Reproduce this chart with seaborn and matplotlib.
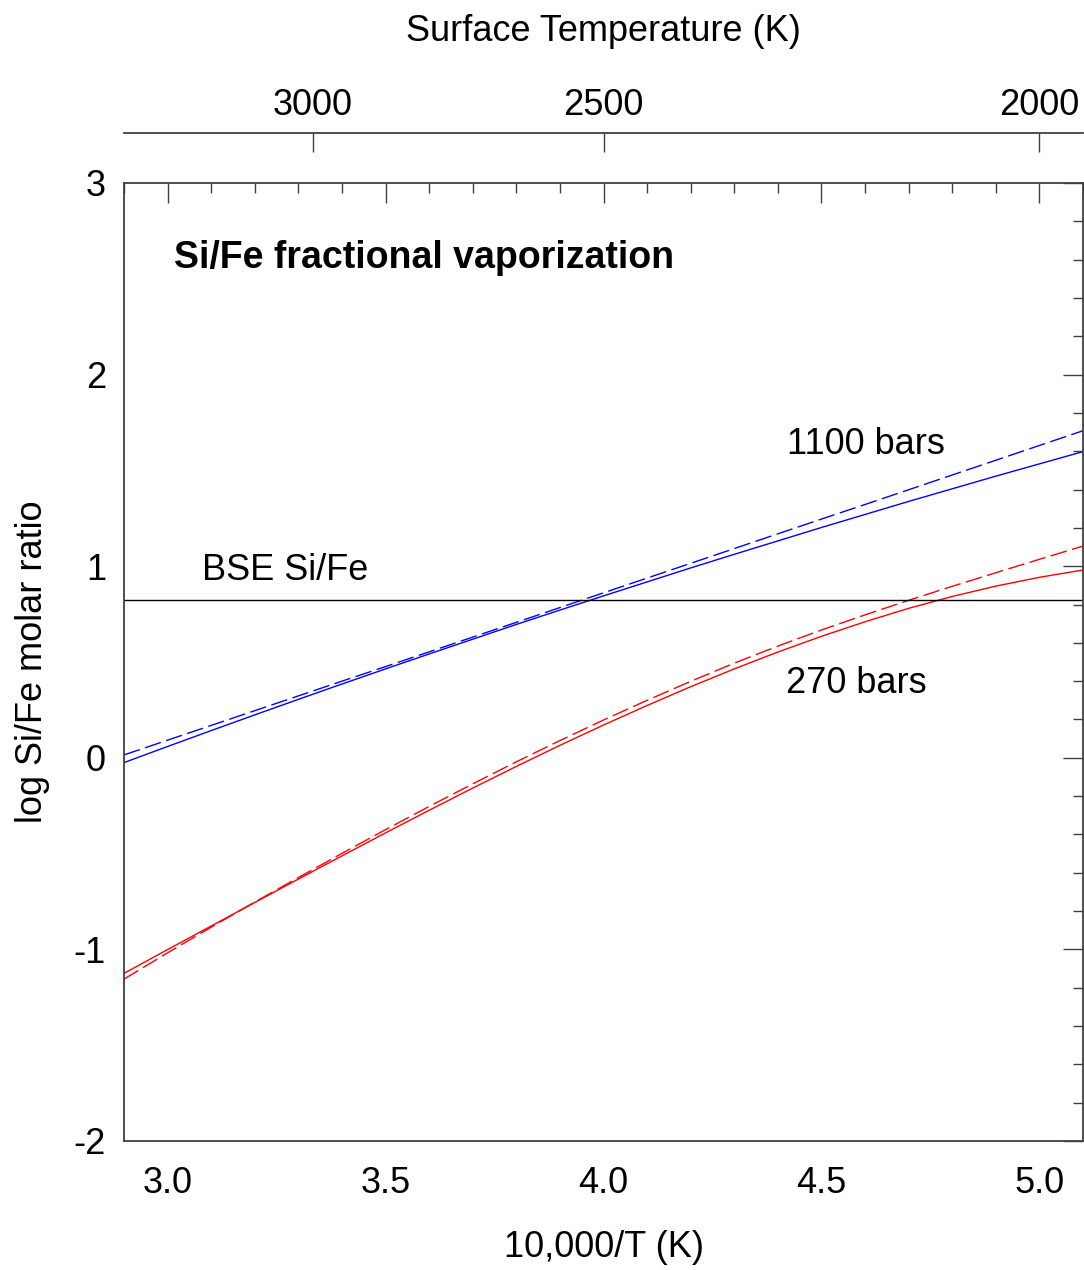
import matplotlib
matplotlib.use("Agg")
import matplotlib.pyplot as plt
from matplotlib.ticker import MultipleLocator, FixedLocator
import seaborn as sns
import numpy as np
import pandas as pd

# ---- data ----
inv_T = [2.9, 3.0, 3.1, 3.2, 3.3, 3.4, 3.5, 3.6, 3.7, 3.8, 3.9, 4.0,
         4.1, 4.2, 4.3, 4.4, 4.5, 4.6, 4.7, 4.8, 4.9, 5.0, 5.1]
si_fe_1100_solid = [-0.025, 0.059, 0.142, 0.224, 0.305, 0.385, 0.464, 0.542, 0.619, 0.696, 0.771, 0.845,
                    0.918, 0.991, 1.062, 1.132, 1.202, 1.270, 1.338, 1.404, 1.470, 1.534, 1.598]
si_fe_1100_dashed = [0.015, 0.092, 0.169, 0.246, 0.323, 0.400, 0.476, 0.553, 0.630, 0.707, 0.784, 0.861,
                     0.938, 1.015, 1.092, 1.169, 1.246, 1.322, 1.399, 1.476, 1.553, 1.630, 1.707]
si_fe_270_solid = [-1.125, -1.001, -0.878, -0.755, -0.633, -0.512, -0.392, -0.274, -0.158, -0.045, 0.065, 0.171,
                   0.273, 0.371, 0.464, 0.552, 0.634, 0.710, 0.780, 0.842, 0.896, 0.942, 0.980]
si_fe_270_dashed = [-1.155, -1.018, -0.884, -0.753, -0.625, -0.499, -0.375, -0.254, -0.136, -0.021, 0.090, 0.197,
                    0.300, 0.399, 0.494, 0.583, 0.667, 0.746, 0.822, 0.895, 0.966, 1.036, 1.105]
bse_si_fe = 0.824
top_temps = [3000, 2500, 2000]
y_ticks = [3, 2, 1, 0, -1, -2]
y_ticklabels = ["3", "2", "1", "0", "-1", "-2"]
x_ticks = [3.0, 3.5, 4.0, 4.5, 5.0]
x_ticklabels = ["3.0", "3.5", "4.0", "4.5", "5.0"]

sns.set_theme(style="white")
plt.rcParams["font.family"] = ["Liberation Sans", "DejaVu Sans"]
plt.rcParams["text.color"] = "black"
plt.rcParams["axes.labelcolor"] = "black"

FS = 26
axcol = "#404040"
fig = plt.figure(figsize=(10.84, 12.70), dpi=100)
ax = fig.add_axes([124 / 1084, 129 / 1270, 959 / 1084, 958 / 1270])

series = [
    (si_fe_1100_solid, "#0000ff", "-"),
    (si_fe_1100_dashed, "#0000ff", (0, (12, 4))),
    (si_fe_270_solid, "#ff0000", "-"),
    (si_fe_270_dashed, "#ff0000", (0, (12, 4))),
]
for vals, col, ls in series:
    sns.lineplot(x=inv_T, y=vals, ax=ax, color=col, linewidth=1.0)
    ax.lines[-1].set_linestyle(ls)

ax.axhline(bse_si_fe, color="black", linewidth=1.0)

ax.set_xlim(2.9, 5.1)
ax.set_ylim(-2, 3)

ax.xaxis.set_major_locator(FixedLocator(x_ticks))
ax.set_xticklabels(x_ticklabels)
ax.xaxis.set_minor_locator(MultipleLocator(0.1))
ax.yaxis.set_major_locator(FixedLocator(y_ticks))
ax.set_yticklabels(y_ticklabels)
ax.yaxis.set_minor_locator(MultipleLocator(0.2))

ax.tick_params(axis="both", which="both", direction="in", colors=axcol,
               top=True, right=True, labelcolor="black", labelsize=FS)
ax.tick_params(axis="both", which="major", length=14.4, width=1.0)
ax.tick_params(axis="both", which="minor", length=7.2, width=1.0)
ax.tick_params(axis="x", which="major", pad=18)
ax.tick_params(axis="y", which="major", pad=13)
for sp in ax.spines.values():
    sp.set_color(axcol)
    sp.set_linewidth(1.3)
    sp.set_visible(True)

ax.set_xlabel("10,000/T (K)", fontsize=FS, labelpad=21)
ax.set_ylabel("log Si/Fe molar ratio", fontsize=FS, labelpad=17)

secax = ax.secondary_xaxis("top", functions=(lambda x: 10000.0 / x, lambda t: 10000.0 / t))
secax.spines["top"].set_position(("outward", 36))
secax.spines["top"].set_color(axcol)
secax.spines["top"].set_linewidth(1.3)
secax.xaxis.set_major_locator(FixedLocator(top_temps))
secax.xaxis.set_minor_locator(FixedLocator([]))
secax.set_xticklabels([str(t) for t in top_temps])
secax.tick_params(axis="x", which="major", direction="in", length=13.7, width=1.0,
                  colors=axcol, labelcolor="black", labelsize=FS, pad=7)
secax.set_xlabel("Surface Temperature (K)", fontsize=FS, labelpad=34)

ax.text(3.014, 2.609, "Si/Fe fractional vaporization", fontsize=FS + 1, fontweight="bold",
        ha="left", va="center")
ax.text(4.42, 1.633, "1100 bars", fontsize=FS, ha="left", va="center")
ax.text(3.078, 0.98, "BSE Si/Fe", fontsize=FS, ha="left", va="center")
ax.text(4.418, 0.39, "270 bars", fontsize=FS, ha="left", va="center")

fig.savefig("out.png", dpi=100)
